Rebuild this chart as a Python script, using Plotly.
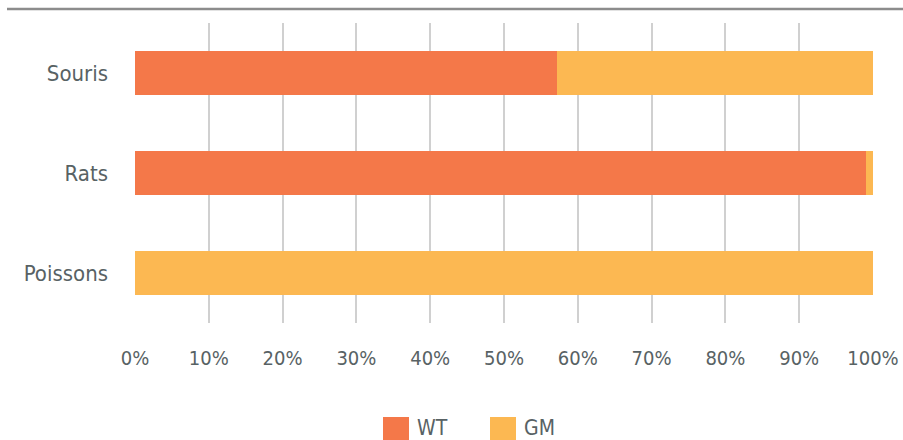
import plotly.graph_objects as go

categories = ["Souris", "Rats", "Poissons"]
wt_values = [57.2, 99.0, 0.0]
gm_values = [42.8, 1.0, 100.0]
tick_vals = [0, 10, 20, 30, 40, 50, 60, 70, 80, 90, 100]
tick_labels = [f"{v}%" for v in tick_vals]
series_names = ["WT", "GM"]

WT_COLOR = "#F47849"
GM_COLOR = "#FCB852"
series_colors = [WT_COLOR, GM_COLOR]
TEXT_COLOR = "#586264"
FONT = "DejaVu Sans Condensed, Liberation Sans Narrow, sans-serif"

W, H = 903, 440
L, R, T, B = 135, 30, 23, 117
pw, ph = W - L - R, H - T - B  # 738 x 300

fig = go.Figure()
for name, vals, col in zip(series_names, [wt_values, gm_values], series_colors):
    fig.add_trace(go.Bar(y=categories, x=vals, orientation="h", name=name,
                         marker=dict(color=col, line=dict(width=0)), showlegend=False))

shapes = [dict(type="line", xref="paper", yref="paper", x0=(7 - L) / pw, x1=1.06,
               y0=1 + 14 / ph, y1=1 + 14 / ph, line=dict(color="#8C8C8C", width=2.5))]
annotations = []
leg_x0 = [383, 490]  # pixel positions of swatch left edges
for i, (name, col) in enumerate(zip(series_names, series_colors)):
    x0 = (leg_x0[i] - L) / pw
    x1 = (leg_x0[i] + 26 - L) / pw
    y0 = (T + ph - 441) / ph
    y1 = (T + ph - 417) / ph
    shapes.append(dict(type="rect", xref="paper", yref="paper", x0=x0, x1=x1,
                       y0=y0, y1=y1, fillcolor=col, line=dict(width=0)))
    annotations.append(dict(xref="paper", yref="paper", x=(leg_x0[i] + 32 - L) / pw,
                            y=(T + ph - 428) / ph, xanchor="left", yanchor="middle",
                            text=name, showarrow=False,
                            font=dict(size=21, family=FONT, color=TEXT_COLOR)))

fig.update_layout(
    barmode="stack",
    bargap=0.56,
    width=W, height=H,
    margin=dict(l=L, r=R, t=T, b=B),
    paper_bgcolor="white", plot_bgcolor="white",
    font=dict(family=FONT, color=TEXT_COLOR, size=22),
    showlegend=False,
    xaxis=dict(range=[0, 100], tickvals=tick_vals, ticktext=tick_labels,
               showgrid=True, gridcolor="#D0D0D0", gridwidth=1.5,
               zeroline=False, showline=False, ticks="", ticklabelstandoff=21,
               automargin=False,
               tickfont=dict(size=20, family=FONT, color=TEXT_COLOR), fixedrange=True),
    yaxis=dict(categoryorder="array", categoryarray=categories[::-1],
               showgrid=False, zeroline=False, showline=False, ticks="",
               ticklabelstandoff=26, automargin=False,
               tickfont=dict(size=22, family=FONT, color=TEXT_COLOR)),
    shapes=shapes,
    annotations=annotations,
)

fig.write_html(
    "out.html",
    config={"displayModeBar": False},
    post_script="document.body.style.margin='0';document.body.style.overflow='hidden';",
)
